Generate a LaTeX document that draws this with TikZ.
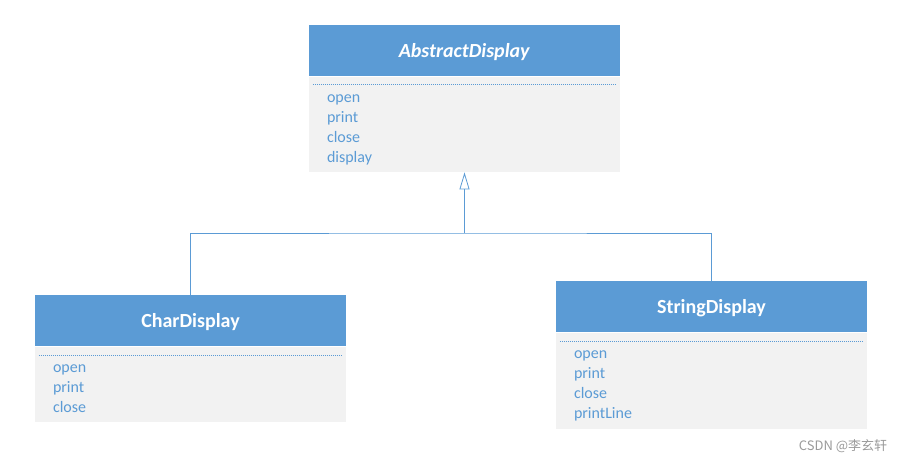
\documentclass[tikz,border=0pt]{standalone}
\usepackage{fontspec}
\setmainfont{Carlito}
\newfontfamily\cjk{Noto Sans CJK SC}
\usetikzlibrary{arrows.meta}

\definecolor{umlblue}{HTML}{5B9BD5}
\definecolor{umlgray}{HTML}{F2F2F2}
\definecolor{markgray}{HTML}{9A9A9A}

\tikzset{
  classhead/.style={fill=umlblue, text=white, minimum width=311pt, minimum height=51pt,
    inner sep=0pt, text height=17pt, text depth=3pt, font=\fontsize{20}{24}\selectfont\bfseries},
  classbody/.style={fill=umlgray, minimum width=311pt, inner sep=0pt, anchor=north},
  member/.style={text=umlblue, anchor=base west, inner sep=0pt, font=\fontsize{16}{20}\selectfont},
  sepline/.style={umlblue, line width=0.8pt, dash pattern=on 1pt off 1pt},
  link/.style={umlblue, line width=0.8pt},
}

\begin{document}
\begin{tikzpicture}[x=1pt, y=-1pt]
    \useasboundingbox (0,0) rectangle (910,463);

    % AbstractDisplay
    \node[classhead] (abs) at (464.5,50.5) {\textit{AbstractDisplay}};
    \node[classbody, minimum height=95pt] (absb) at (464.5,77) {};
    \draw[sepline] ([xshift=4pt,yshift=-7pt]absb.north west) -- ([xshift=-4pt,yshift=-7pt]absb.north east);
    \foreach \m [count=\i] in {open,print,close,display}
        \node[member] (abs-\i) at ([xshift=18pt,yshift={-(5+20*\i)*1pt}]absb.north west) {\m};

    % CharDisplay
    \node[classhead] (cd) at (190.5,320.5) {CharDisplay};
    \node[classbody, minimum height=75pt] (cdb) at (190.5,347) {};
    \draw[sepline] ([xshift=4pt,yshift=-8pt]cdb.north west) -- ([xshift=-4pt,yshift=-8pt]cdb.north east);
    \foreach \m [count=\i] in {open,print,close}
        \node[member] (cd-\i) at ([xshift=18pt,yshift={-(5+20*\i)*1pt}]cdb.north west) {\m};

    % StringDisplay
    \node[classhead] (sd) at (711.5,306.5) {StringDisplay};
    \node[classbody, minimum height=96pt] (sdb) at (711.5,333) {};
    \draw[sepline] ([xshift=4pt,yshift=-8pt]sdb.north west) -- ([xshift=-4pt,yshift=-8pt]sdb.north east);
    \foreach \m [count=\i] in {open,print,close,printLine}
        \node[member] (sd-\i) at ([xshift=18pt,yshift={-(5+20*\i)*1pt}]sdb.north west) {\m};

    % inheritance
    \coordinate (bar) at (464.5,233);
    \draw[link, -{Triangle[open,length=17pt,width=10pt]}] (bar) -- (absb.south);
    \draw[link] (cd.north) |- (bar) -| (sd.north);

    % watermark
    \node[font=\cjk\fontsize{13}{15}\selectfont, text=markgray] (mark) at (843,446) {CSDN @李玄轩};
\end{tikzpicture}
\end{document}
